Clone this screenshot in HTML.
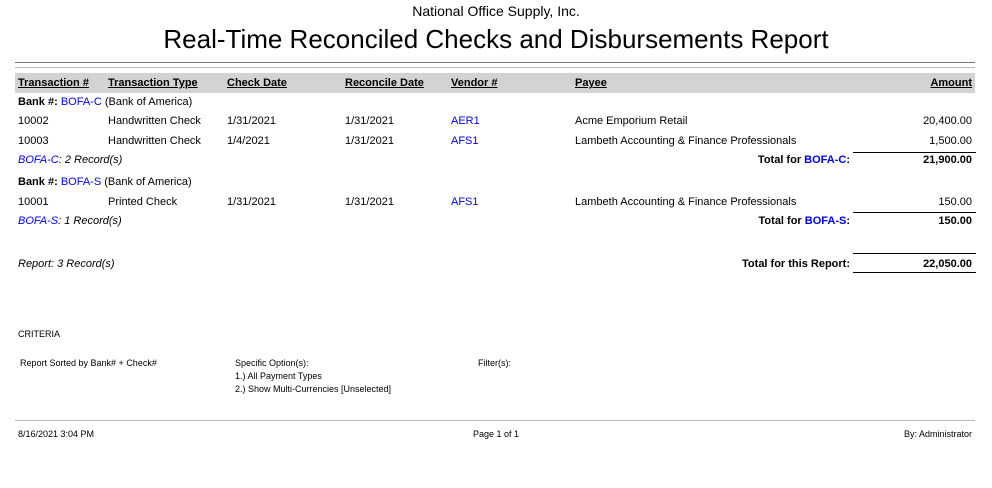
<!DOCTYPE html>
<html><head><style>
body{margin:0;width:992px;height:488px;background:#fff;position:relative;font-family:"Liberation Sans",sans-serif;color:#000;overflow:hidden}
.a{position:absolute;white-space:nowrap;font-size:11px;line-height:13px}
.b{font-weight:bold}
.u{text-decoration:underline}
.bl{color:#0000ee}
.i{font-style:italic}
.r{text-align:right}
.s{position:absolute;font-size:9px;line-height:11px;white-space:nowrap}
.ln{position:absolute;height:1px;background:#000}
</style></head><body>
<div class="a" style="left:0;width:992px;top:3px;text-align:center;font-size:14px;line-height:16px">National Office Supply, Inc.</div>
<div class="a" style="left:0;width:992px;top:24px;text-align:center;font-size:26px;line-height:30px;letter-spacing:0px">Real-Time Reconciled Checks and Disbursements Report</div>
<div style="position:absolute;left:15px;width:960px;top:62px;height:1px;background:#777"></div>
<div style="position:absolute;left:15px;width:960px;top:67px;height:1px;background:#bbb"></div>
<div style="position:absolute;left:15px;width:960px;top:73px;height:20px;background:#d3d3d3"></div>
<div class="a b u" style="left:18px;top:77px">Transaction #</div>
<div class="a b u" style="left:108px;top:77px">Transaction Type</div>
<div class="a b u" style="left:227px;top:77px">Check Date</div>
<div class="a b u" style="left:345px;top:77px">Reconcile Date</div>
<div class="a b u" style="left:451px;top:77px">Vendor #</div>
<div class="a b u" style="left:575px;top:77px">Payee</div>
<div class="a b u r" style="left:872px;width:100px;top:77px">Amount</div>

<div class="a" style="left:18px;top:96px"><b>Bank #:</b> <span class="bl">BOFA-C</span> (Bank of America)</div>
<div class="a" style="left:18px;top:115px">10002</div><div class="a" style="left:108px;top:115px">Handwritten Check</div><div class="a" style="left:227px;top:115px">1/31/2021</div><div class="a" style="left:345px;top:115px">1/31/2021</div><div class="a bl" style="left:451px;top:115px">AER1</div><div class="a" style="left:575px;top:115px">Acme Emporium Retail</div><div class="a r" style="left:872px;width:100px;top:115px">20,400.00</div>
<div class="a" style="left:18px;top:135px">10003</div><div class="a" style="left:108px;top:135px">Handwritten Check</div><div class="a" style="left:227px;top:135px">1/4/2021</div><div class="a" style="left:345px;top:135px">1/31/2021</div><div class="a bl" style="left:451px;top:135px">AFS1</div><div class="a" style="left:575px;top:135px">Lambeth Accounting &amp; Finance Professionals</div><div class="a r" style="left:872px;width:100px;top:135px">1,500.00</div>
<div class="ln" style="left:853px;width:123px;top:152px"></div>
<div class="a i" style="left:18px;top:154px"><span class="bl">BOFA-C</span>: 2 Record(s)</div>
<div class="a b r" style="left:650px;width:200px;top:154px">Total for <span class="bl">BOFA-C</span>:</div>
<div class="a b r" style="left:872px;width:100px;top:154px">21,900.00</div>

<div class="a" style="left:18px;top:176px"><b>Bank #:</b> <span class="bl">BOFA-S</span> (Bank of America)</div>
<div class="a" style="left:18px;top:196px">10001</div><div class="a" style="left:108px;top:196px">Printed Check</div><div class="a" style="left:227px;top:196px">1/31/2021</div><div class="a" style="left:345px;top:196px">1/31/2021</div><div class="a bl" style="left:451px;top:196px">AFS1</div><div class="a" style="left:575px;top:196px">Lambeth Accounting &amp; Finance Professionals</div><div class="a r" style="left:872px;width:100px;top:196px">150.00</div>
<div class="ln" style="left:853px;width:123px;top:212px"></div>
<div class="a i" style="left:18px;top:215px"><span class="bl">BOFA-S</span>: 1 Record(s)</div>
<div class="a b r" style="left:650px;width:200px;top:215px">Total for <span class="bl">BOFA-S</span>:</div>
<div class="a b r" style="left:872px;width:100px;top:215px">150.00</div>

<div class="ln" style="left:853px;width:123px;top:253px"></div>
<div class="a i" style="left:18px;top:258px">Report: 3 Record(s)</div>
<div class="a b r" style="left:650px;width:200px;top:258px">Total for this Report:</div>
<div class="a b r" style="left:872px;width:100px;top:258px">22,050.00</div>
<div class="ln" style="left:853px;width:123px;top:272px"></div>

<div class="s" style="left:18px;top:329px">CRITERIA</div>
<div class="s" style="left:20px;top:358px">Report Sorted by Bank# + Check#</div>
<div class="s" style="left:235px;top:358px">Specific Option(s):</div>
<div class="s" style="left:235px;top:371px">1.) All Payment Types</div>
<div class="s" style="left:235px;top:384px">2.) Show Multi-Currencies [Unselected]</div>
<div class="s" style="left:478px;top:358px">Filter(s):</div>
<div style="position:absolute;left:15px;width:960px;top:420px;height:1px;background:#bbb"></div>
<div class="s" style="left:18px;top:429px">8/16/2021 3:04 PM</div>
<div class="s" style="left:0;width:992px;text-align:center;top:429px">Page 1 of 1</div>
<div class="s" style="left:772px;width:200px;text-align:right;top:429px">By: Administrator</div>
</body></html>
